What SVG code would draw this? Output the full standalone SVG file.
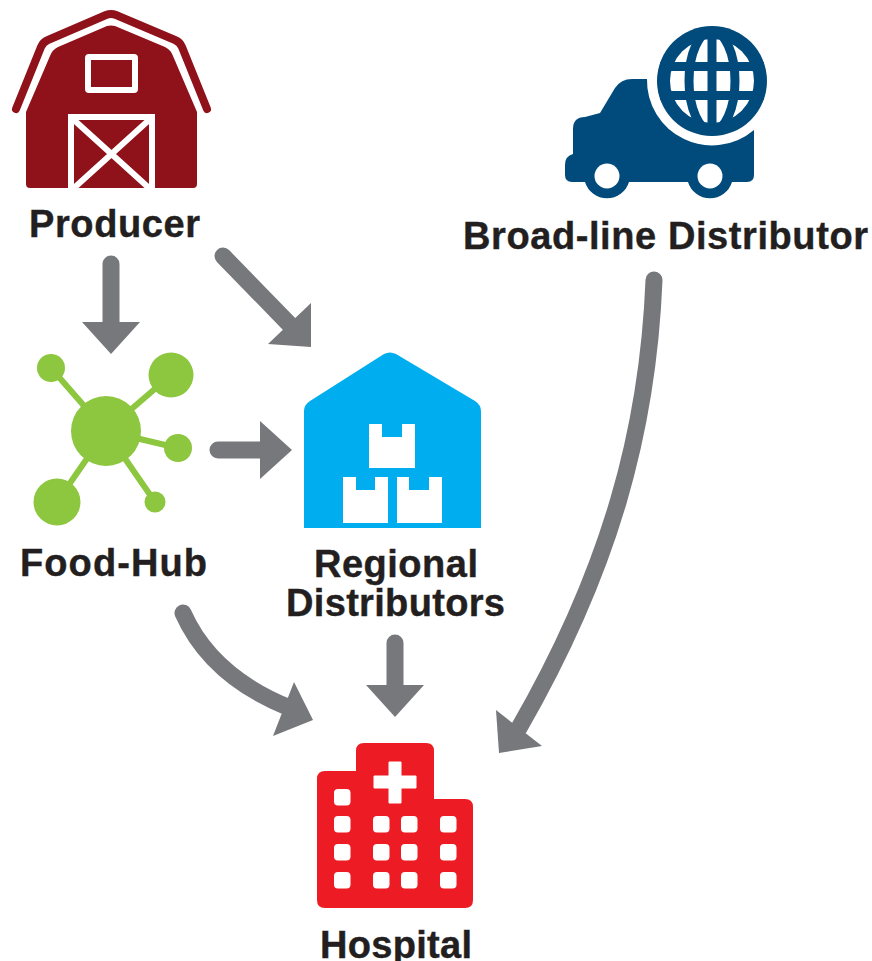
<svg xmlns="http://www.w3.org/2000/svg" width="872" height="961" viewBox="0 0 872 961">
<style>
text{font-family:"Liberation Sans",Arial,sans-serif;font-weight:700;font-size:38px;fill:#231f20;stroke:#231f20;stroke-width:.4}
.shaft{fill:none;stroke:#77787b;stroke-width:17;stroke-linecap:round}
.head{fill:#77787b}
.w{fill:#fff}
.ws{fill:none;stroke:#fff;stroke-width:6}
</style>
<rect width="872" height="961" fill="#fff"/>
<g id="connectors">
<path class="shaft" d="M111 264V325"/><path class="head" d="M82 322H140L111 354Z"/>
<path class="shaft" d="M223 256L292 327"/><path class="head" d="M311 303V347L268 344Z"/>
<path class="shaft" d="M218 450H265"/><path class="head" d="M260 421V479L292 450Z"/>
<path class="shaft" d="M183 613C203 658 240 688 290 708"/><path class="head" d="M294 682L313 720L273 736Z"/>
<path class="shaft" d="M395 643V690"/><path class="head" d="M366 685H424L395 717Z"/>
<path class="shaft" d="M654 280C648 430 610 570 519 728"/><path class="head" d="M496 710L542 746L499 753Z"/>
</g>
<g id="producer">
<path d="M26 112L50 56Q52 50 58 47L107 26Q111 25 115 26L165 47Q171 50 173 56L197 112V184Q197 188 193 188H30Q26 188 26 184Z" fill="#8f111a"/>
<path d="M16 109L41 47Q43 42 48 40L106 15Q111 13 116 15L175 40Q180 42 182 47L207 109" fill="none" stroke="#8f111a" stroke-width="8" stroke-linecap="round" stroke-linejoin="round"/>
<rect class="ws" x="88" y="57" width="47" height="33" rx="1"/>
<path class="ws" d="M71 188V117H152V188M74 120L149 188M149 120L74 188"/>
<text x="29" y="237" textLength="171">Producer</text>
</g>
<g id="broadline-distributor">
<path d="M565 165Q565 156 573 154V129Q573 117 585 117L600 113L615 88Q621 79 632 79H647A65 65 0 0 0 754 130V175Q754 182 747 182H732A23 23 0 0 1 688 182H629A23 23 0 0 1 585 182H572Q565 182 565 175Z" fill="#004b7c"/>
<circle cx="607" cy="176" r="12.500" class="w"/><circle cx="710" cy="176" r="12.500" class="w"/>
<circle cx="712" cy="81" r="55" fill="#004b7c"/>
<circle cx="712" cy="81" r="42" class="w"/>
<g fill="none" stroke="#004b7c" stroke-width="9"><path d="M712 30V132M660 66.500H764M660 95.500H764"/><ellipse cx="712" cy="81" rx="23" ry="50"/></g>
<text x="463" y="249" textLength="405">Broad-line Distributor</text>
</g>
<g id="food-hub" fill="#8dc63f">
<path d="M51 368L106 431M171 375L106 431M178 448L106 431M57 502L106 431M155 502L106 431" stroke="#8dc63f" stroke-width="6"/>
<circle cx="106" cy="431" r="35"/><circle cx="51" cy="368" r="14"/><circle cx="171" cy="375" r="22.500"/><circle cx="178" cy="448" r="14"/><circle cx="57" cy="502" r="23.500"/><circle cx="155" cy="502" r="10.500"/>
<text x="20" y="576" textLength="187">Food-Hub</text>
</g>
<g id="regional-distributors">
<path d="M304 411Q304 405 310 401L384 354Q390 351 396 354L475 401Q481 405 481 411V528H304Z" fill="#00aeef"/>
<path class="w" d="M369 424H382V437H402V424H415V468H369Z"/>
<path class="w" d="M343 477H356V490H375V477H388V523H343Z"/>
<path class="w" d="M397 477H409V490H429V477H442V523H397Z"/>
<text x="314" y="577" textLength="164">Regional</text>
<text x="286" y="616" textLength="219">Distributors</text>
</g>
<g id="hospital">
<path d="M356 771V751Q356 743 364 743H426Q434 743 434 751V799H465Q473 799 473 807V900Q473 908 465 908H325Q317 908 317 900V779Q317 771 325 771Z" fill="#ed1c24"/>
<path class="w" d="M389 762H401V776H416V788H401V803H389V788H374V776H389Z" stroke="#fff" stroke-width="1" stroke-linejoin="round"/>
<g class="w">
<rect x="334" y="789" width="16.500" height="16.500" rx="4"/>
<rect x="334" y="816" width="16.500" height="16.500" rx="4"/><rect x="373" y="816" width="16.500" height="16.500" rx="4"/><rect x="401" y="816" width="16.500" height="16.500" rx="4"/><rect x="440" y="816" width="16.500" height="16.500" rx="4"/>
<rect x="334" y="844" width="16.500" height="16.500" rx="4"/><rect x="373" y="844" width="16.500" height="16.500" rx="4"/><rect x="401" y="844" width="16.500" height="16.500" rx="4"/><rect x="440" y="844" width="16.500" height="16.500" rx="4"/>
<rect x="334" y="872" width="16.500" height="16.500" rx="4"/><rect x="373" y="872" width="16.500" height="16.500" rx="4"/><rect x="401" y="872" width="16.500" height="16.500" rx="4"/><rect x="440" y="872" width="16.500" height="16.500" rx="4"/>
</g>
<text x="320" y="958" textLength="152">Hospital</text>
</g>
</svg>
